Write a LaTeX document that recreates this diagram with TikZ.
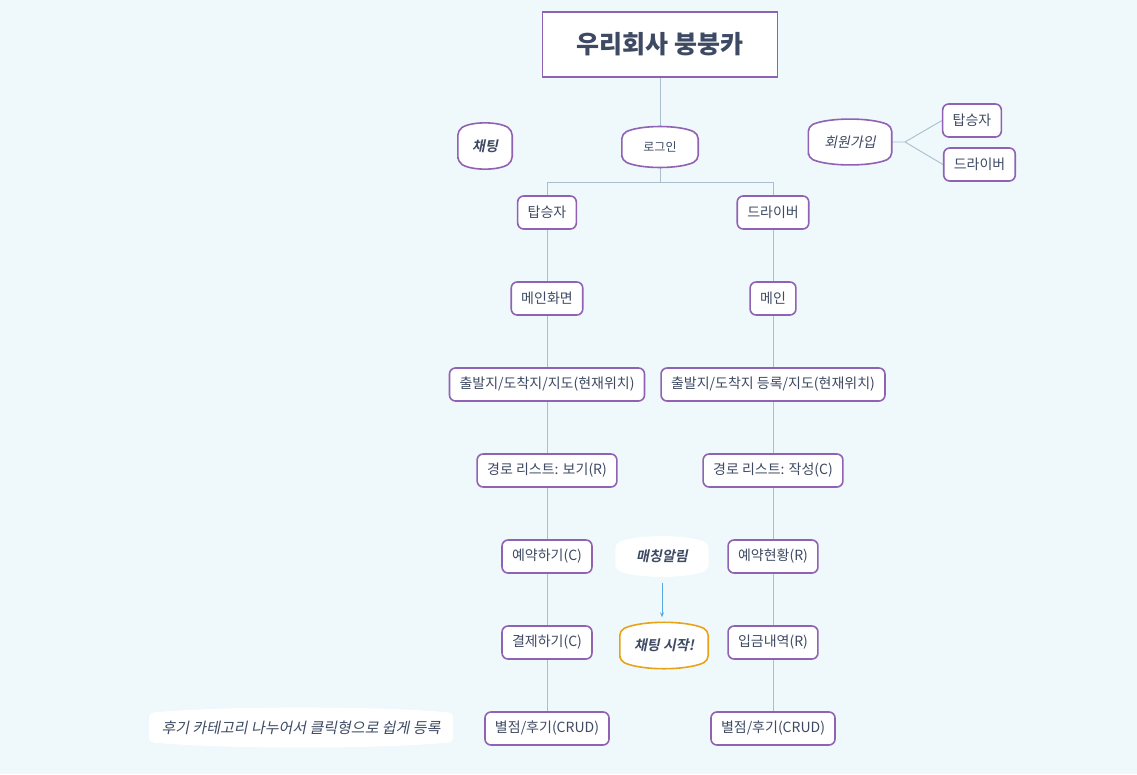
\documentclass[tikz,border=0pt]{standalone}
\usepackage{fontspec}
\setmainfont{Noto Sans CJK KR}[ItalicFont={Noto Sans CJK KR}, ItalicFeatures={FakeSlant=0.2},
    BoldItalicFont={Noto Sans CJK KR Bold}, BoldItalicFeatures={FakeSlant=0.2}]
\usetikzlibrary{shapes,arrows.meta,positioning,calc}
\definecolor{bgpage}{HTML}{EFF8FB}
\definecolor{boxline}{HTML}{8F62B3}
\definecolor{txt}{HTML}{3E4A63}
\definecolor{linkc}{HTML}{A9BFCF}
\definecolor{arrowc}{HTML}{5AA9E0}
\definecolor{chatc}{HTML}{E8A317}
\pgfdeclarelayer{back}
\pgfsetlayers{back,main}
\tikzstyle{item} = [draw=boxline, rectangle, rounded corners=6pt, fill=white,
    line width=1.6pt, minimum height=33pt, inner xsep=10pt, text=txt,
    font=\fontsize{14}{16}\selectfont]
\tikzstyle{title} = [draw=boxline, rectangle, fill=white, line width=1.8pt,
    minimum width=235pt, minimum height=65pt, text=txt,
    font=\fontsize{25}{29}\selectfont\bfseries]
\tikzstyle{bnode} = [rectangle, inner sep=0pt, text=txt,
    font=\fontsize{14}{16}\selectfont\itshape]
\tikzstyle{bline} = [draw=boxline, fill=white, line width=1.6pt, rounded corners=5pt]
\tikzstyle{connector} = [draw=linkc, line width=0.9pt]
% shape with bowed top and bottom, drawn behind the node #2
\newcommand{\bulge}[3]{%
  \path[#1] (#2.south west) -- (#2.north west)
    .. controls ($(#2.north west)!0.25!(#2.north east)+(0,-#3)$) and ($(#2.north west)!0.75!(#2.north east)+(0,-#3)$) .. (#2.north east)
    -- (#2.south east)
    .. controls ($(#2.south east)!0.25!(#2.south west)+(0,#3)$) and ($(#2.south east)!0.75!(#2.south west)+(0,#3)$) .. cycle;}

\begin{document}
\begin{tikzpicture}[x=1pt, y=-1pt, node distance=86pt]
    \useasboundingbox (0,0) rectangle (1137,774);
    \node (title) [title] at (660,44.5) {우리회사 붕붕카};

    % login and sign-up
    \node (login) [bnode, minimum width=76pt, minimum height=26pt, font=\fontsize{12}{14}\selectfont] at (660,147) {로그인};
    \node (chat) [bnode, minimum width=54pt, minimum height=31pt, font=\fontsize{14}{16}\selectfont\itshape\bfseries] at (485,146) {채팅};
    \node (join) [bnode, minimum width=83pt, minimum height=31pt] at (850,142) {회원가입};
    \node (joinrider) [item] at (972,120.5) {탑승자};
    \node (joindriver) [item] at (979.5,164.5) {드라이버};
    \coordinate (joinsplit) at (905,142);
    \coordinate (split) at (660,182);

    % rider column
    \node (rider) [item] at (547,212.5) {탑승자};
    \node (rmain) [item, below of=rider] {메인화면};
    \node (rmap) [item, below of=rmain] {출발지/도착지/지도(현재위치)};
    \node (rroute) [item, below of=rmap] {경로 리스트: 보기(R)};
    \node (rbook) [item, below of=rroute] {예약하기(C)};
    \node (rpay) [item, below of=rbook] {결제하기(C)};
    \node (rreview) [item, below of=rpay] {별점/후기(CRUD)};

    % driver column
    \node (driver) [item] at (773,212.5) {드라이버};
    \node (dmain) [item, below of=driver] {메인};
    \node (dmap) [item, below of=dmain] {출발지/도착지 등록/지도(현재위치)};
    \node (droute) [item, below of=dmap] {경로 리스트: 작성(C)};
    \node (dbook) [item, below of=droute] {예약현황(R)};
    \node (dpay) [item, below of=dbook] {입금내역(R)};
    \node (dreview) [item, below of=dpay] {별점/후기(CRUD)};

    % floating notes
    \node (match) [bnode, minimum width=93pt, minimum height=26pt, font=\fontsize{14}{16}\selectfont\itshape\bfseries] at (662,556.5) {매칭알림};
    \node (chatgo) [bnode, minimum width=88pt, minimum height=30pt, font=\fontsize{14}{16}\selectfont\itshape\bfseries] at (664,645.5) {채팅 시작!};
    \node (note) [bnode, minimum width=304pt, minimum height=29pt, font=\fontsize{15}{17}\selectfont\itshape] at (301,727.5) {후기 카테고리 나누어서 클릭형으로 쉽게 등록};

    \begin{pgfonlayer}{back}
    \fill[bgpage] (0,0) rectangle (1137,774);
    \draw [connector] (title) -- (login);
    \draw [connector] (login) -- (split) -| (rider);
    \draw [connector] (split) -| (driver);
    \draw [connector] (join) -- (joinsplit) -- (joinrider.west);
    \draw [connector] (joinsplit) -- (joindriver.west);
    \draw [connector] (rider) -- (rmain) -- (rmap) -- (rroute) -- (rbook) -- (rpay) -- (rreview);
    \draw [connector] (driver) -- (dmain) -- (dmap) -- (droute) -- (dbook) -- (dpay) -- (dreview);
    \draw [-{Stealth[length=5pt,width=4pt]}, draw=arrowc, line width=0.9pt, shorten <=13pt, shorten >=13pt] (match) -- (match |- chatgo.north);
    \bulge{bline}{login}{9}
    \bulge{bline}{chat}{9}
    \bulge{bline}{join}{9}
    \bulge{fill=white, rounded corners=5pt}{match}{9}
    \bulge{bline, draw=chatc}{chatgo}{10}
    \bulge{fill=white, rounded corners=5pt}{note}{7}
    \end{pgfonlayer}
\end{tikzpicture}
\end{document}
